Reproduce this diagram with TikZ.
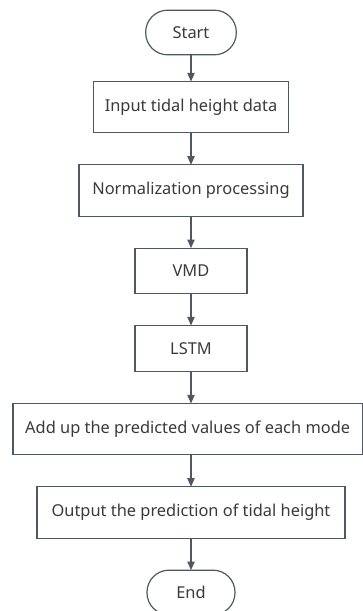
\documentclass[tikz,border=0pt]{standalone}
\usepackage{fontspec}
\setmainfont{Noto Sans}
\usepackage{xcolor}
\usetikzlibrary{arrows.meta, positioning}
\definecolor{linha}{HTML}{4F5860}
\definecolor{texto}{HTML}{3A3A3A}
\begin{document}
\begin{tikzpicture}[
    x=0.75pt, y=-0.75pt,
    node distance=24pt,
    every node/.style={draw=linha, line width=0.9pt, text=texto, font=\fontsize{12.3pt}{14pt}\selectfont, inner sep=2pt, outer sep=0pt},
    seta/.style={draw=linha, line width=0.9pt, -{Triangle[length=6.5pt, width=5.5pt]}}
]
\tikzset{
    terminal/.style={rounded corners=16.5pt, minimum width=68pt, minimum height=33.5pt},
    caixa/.style={rectangle, minimum height=38.5pt}
}
\useasboundingbox (0,0) rectangle (363,611);
\node[terminal] (inicio) at (191,32.5) {Start};
\node[caixa, minimum width=146pt, below=20pt of inicio] (entrada) {Input tidal height data};
\node[caixa, minimum width=168pt, below=of entrada] (norm) {Normalization processing};
\node[caixa, minimum width=84pt, minimum height=34pt, below=of norm] (vmd) {VMD};
\node[caixa, minimum width=84pt, minimum height=34.5pt, below=of vmd] (lstm) {LSTM};
\node[caixa, minimum width=262pt, below=of lstm, xshift=-2.5pt] (soma) {Add up the predicted values of each mode};
\node[caixa, minimum width=231pt, below=of soma, xshift=2.5pt] (saida) {Output the prediction of tidal height};
\node[terminal, minimum width=66pt, below=of saida] (fim) {End}; % cortado embaixo
\draw[seta] (inicio) -- (entrada);
\draw[seta] (entrada) -- (norm);
\draw[seta] (norm) -- (vmd);
\draw[seta] (vmd) -- (lstm);
\draw[seta] (lstm) -- (lstm |- soma.north);
\draw[seta] (saida |- soma.south) -- (saida);
\draw[seta] (saida) -- (fim);
\end{tikzpicture}
\end{document}
